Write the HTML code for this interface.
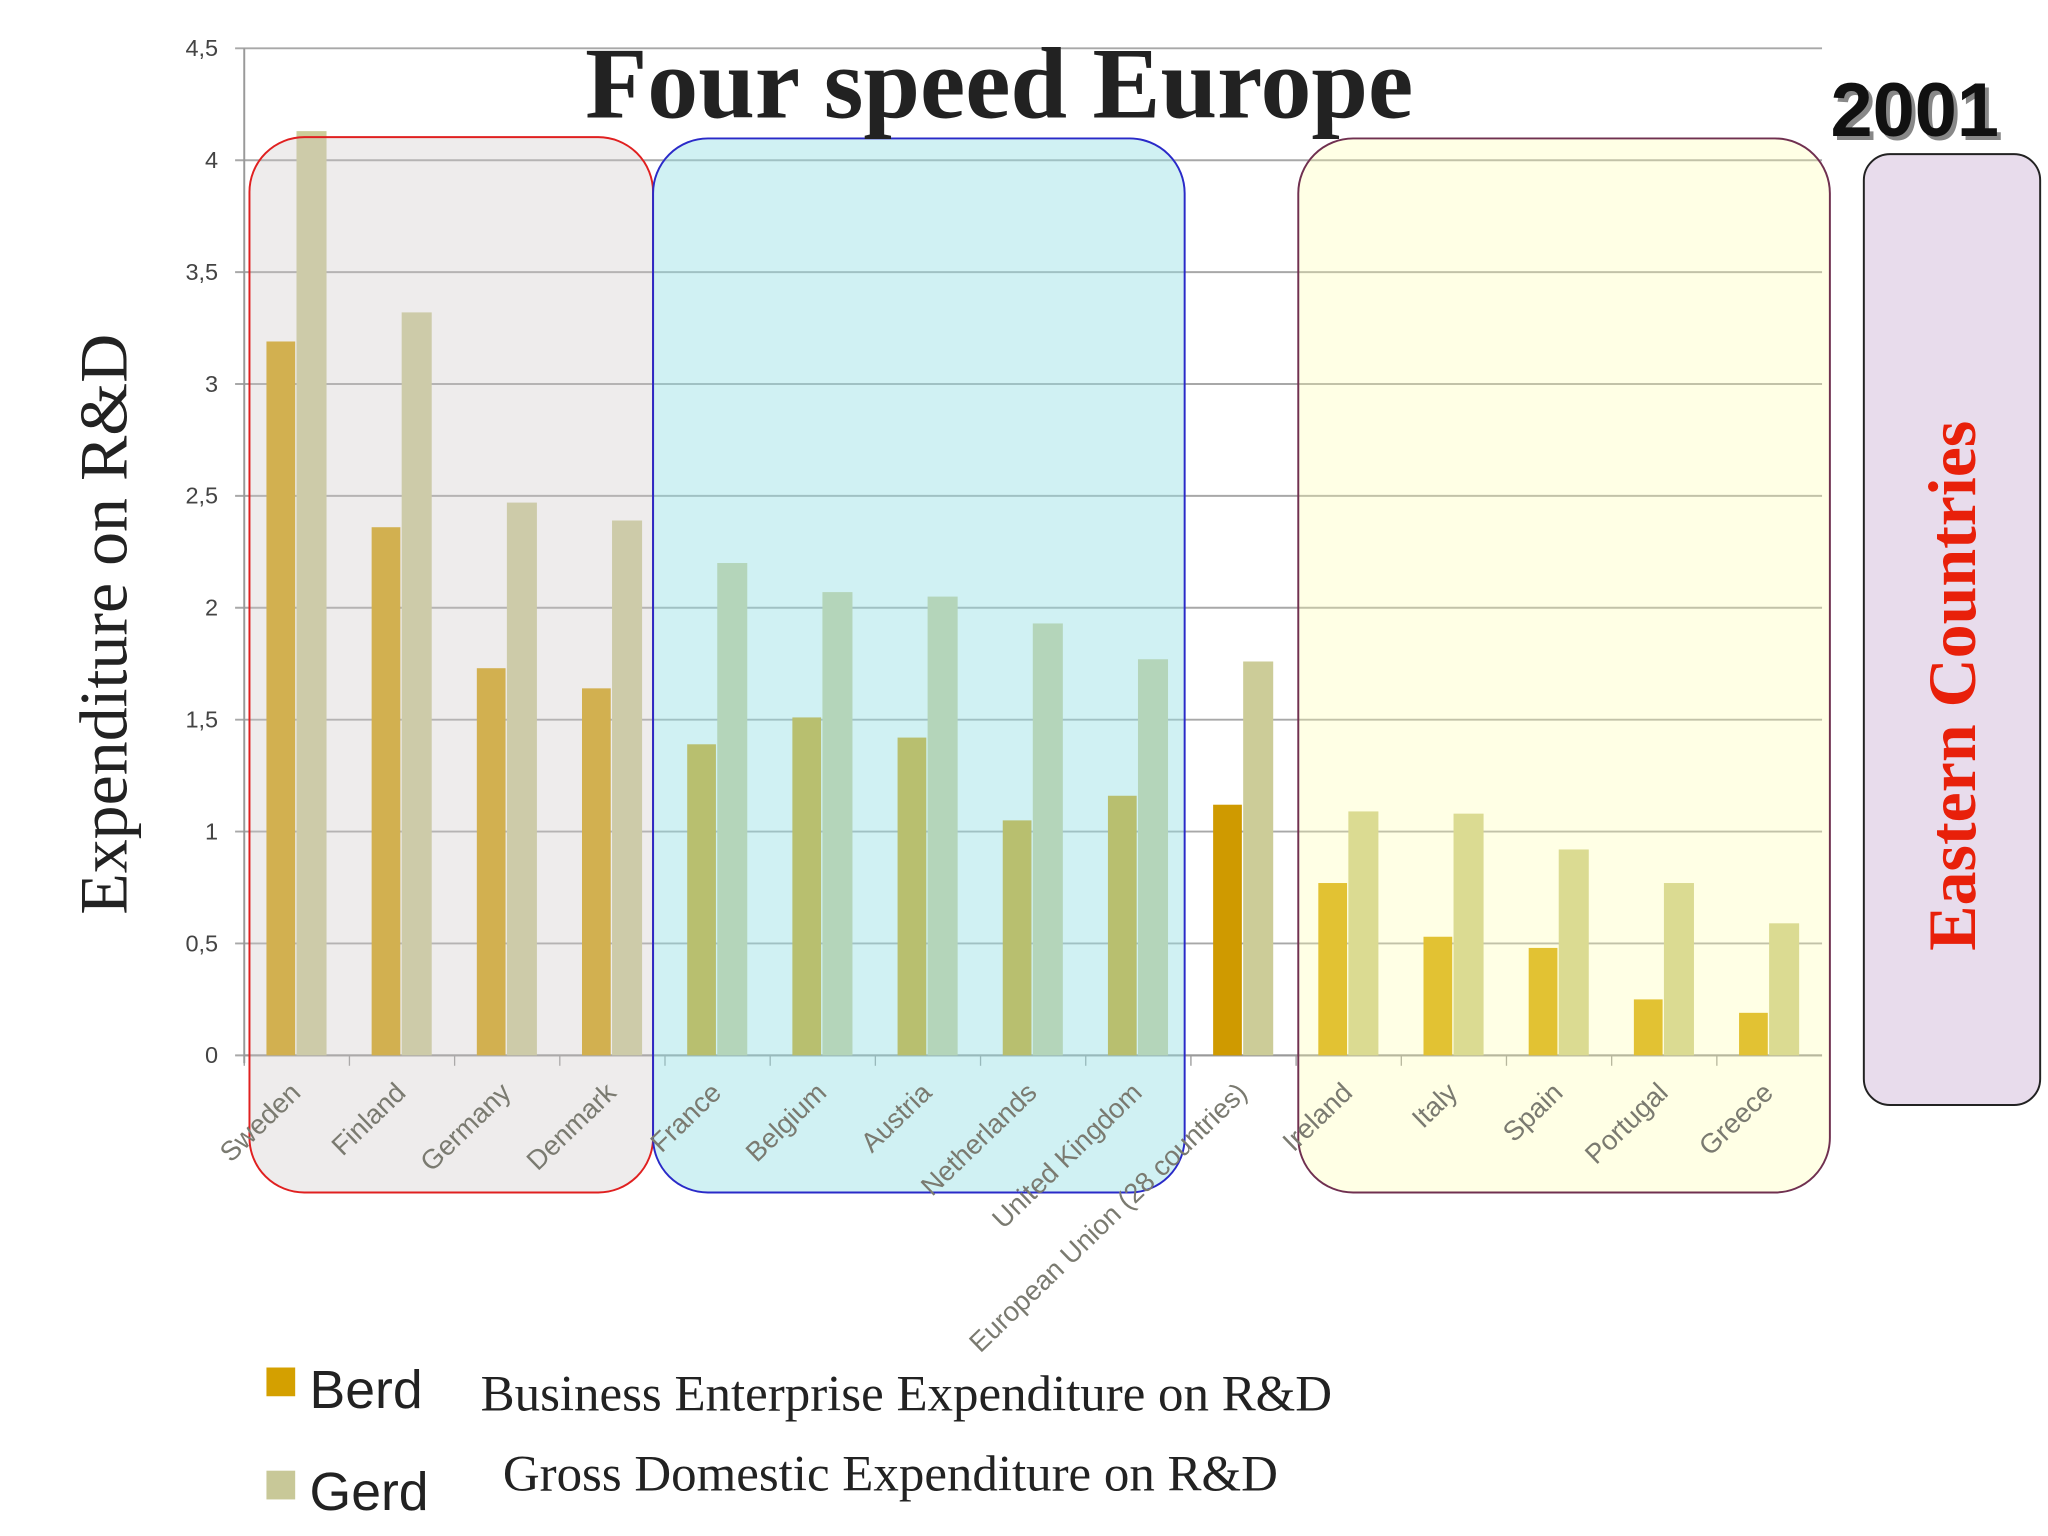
<!DOCTYPE html>
<html><head><meta charset="utf-8">
<style>
html,body{margin:0;padding:0;background:#fff;}
svg{display:block;}
</style></head>
<body>
<svg id="chart" width="2048" height="1536" viewBox="0 0 1568 1176" xmlns="http://www.w3.org/2000/svg">
<rect x="0" y="0" width="1568" height="1176" fill="#fff"/>
<g id="grid"></g>
<g id="bars"></g>
<g id="overlays">
<rect x="191" y="105" width="309" height="808" rx="42" fill="rgba(205,200,200,0.35)" stroke="#e02020" stroke-width="1.5"/>
<rect x="500" y="106" width="407" height="807" rx="42" fill="rgba(150,225,228,0.45)" stroke="#2a2ac8" stroke-width="1.5"/>
<rect x="994" y="106" width="407" height="807" rx="42" fill="rgba(255,255,170,0.3)" stroke="#703050" stroke-width="1.5"/>
<rect x="1427" y="118" width="135" height="728" rx="20" fill="#e8dcec" stroke="#222" stroke-width="1.5"/>
</g>
<g id="labels"></g>
<text x="765" y="90" text-anchor="middle" font-family="Liberation Serif, serif" font-weight="bold" font-size="78" fill="#222">Four speed Europe</text>
<text x="1469" y="107" text-anchor="middle" font-family="Liberation Sans, sans-serif" font-weight="bold" font-size="58" fill="#888">2001</text>
<text x="1466" y="104" text-anchor="middle" font-family="Liberation Sans, sans-serif" font-weight="bold" font-size="58" fill="#111">2001</text>
<text transform="translate(97,478) rotate(-90)" text-anchor="middle" font-family="Liberation Serif, serif" font-size="52" fill="#222">Expenditure on R&amp;D</text>
<text transform="translate(1512,525) rotate(-90)" text-anchor="middle" font-family="Liberation Serif, serif" font-weight="bold" font-size="52" fill="#e8200a">Eastern Countries</text>
<rect x="204" y="1047" width="22" height="22" fill="#d4a000"/>
<text x="237" y="1078" font-family="Liberation Sans, sans-serif" font-size="41" fill="#222">Berd</text>
<text x="368" y="1080" font-family="Liberation Serif, serif" font-size="39" fill="#222">Business Enterprise Expenditure on R&amp;D</text>
<rect x="204" y="1126" width="22" height="22" fill="#c8c898"/>
<text x="237" y="1156" font-family="Liberation Sans, sans-serif" font-size="41" fill="#222">Gerd</text>
<text x="385" y="1141" font-family="Liberation Serif, serif" font-size="39" fill="#222">Gross Domestic Expenditure on R&amp;D</text>
</svg>
<script>
const categories = ["Sweden","Finland","Germany","Denmark","France","Belgium","Austria","Netherlands","United Kingdom","European Union (28 countries)","Ireland","Italy","Spain","Portugal","Greece"];
const berd = [3.19,2.36,1.73,1.64,1.39,1.51,1.42,1.05,1.16,1.12,0.77,0.53,0.48,0.25,0.19];
const gerd = [4.13,3.32,2.47,2.39,2.20,2.07,2.05,1.93,1.77,1.76,1.09,1.08,0.92,0.77,0.59];
const yTicks = [0,0.5,1,1.5,2,2.5,3,3.5,4,4.5];
const yTickLabels = ["0","0,5","1","1,5","2","2,5","3","3,5","4","4,5"];

const NS = "http://www.w3.org/2000/svg";
const x0 = 187, x1 = 1395, y0 = 808, yTop = 37, yMax = 4.5;
const step = (x1 - x0) / categories.length;
function y(v){ return y0 - v / yMax * (y0 - yTop); }
function xc(i){ return x0 + i * step; }
function mk(tag, attrs, parent){
  const e = document.createElementNS(NS, tag);
  for (const k in attrs) e.setAttribute(k, attrs[k]);
  parent.appendChild(e); return e;
}
const grid = document.getElementById('grid');
const bars = document.getElementById('bars');
const labels = document.getElementById('labels');

yTicks.forEach((t, i) => {
  const ln = mk('line', {x1: 180, x2: x1, y1: y(t), y2: y(t), stroke: '#a8a8a8', 'stroke-width': 1.5}, grid);
  
  
  const tx = mk('text', {x: 167, y: y(t) + 6, 'text-anchor': 'end', 'font-family': 'Liberation Sans, sans-serif', 'font-size': 18, fill: '#444'}, grid);
  tx.textContent = yTickLabels[i];
  
  
});
const ax = mk('line', {x1: x0, x2: x0, y1: yTop, y2: y0 + 6, stroke: '#999', 'stroke-width': 1.5}, grid);


const bx = mk('line', {x1: x0, x2: x1, y1: y0, y2: y0, stroke: '#999', 'stroke-width': 1.5}, grid);



categories.forEach((c, i) => {
  const bc = i === 9 ? '#cf9a00' : (i >= 10 ? '#d6a800' : '#d4a410');
  const gc = i >= 10 ? '#cccc88' : '#cccc98';
  const b = mk('rect', {x: xc(i) + 17, y: y(berd[i]), width: 22, height: y0 - y(berd[i]), fill: bc}, bars);
  
  
  const g = mk('rect', {x: xc(i) + 40, y: y(gerd[i]), width: 23, height: y0 - y(gerd[i]), fill: gc}, bars);
  
  
  const tk = mk('line', {x1: xc(i), x2: xc(i), y1: y0, y2: y0 + 8, stroke: '#999', 'stroke-width': 1}, grid);
  
  
  const cx = xc(i) + step / 2;
  const t = mk('text', {transform: `translate(${cx + 4},${y0 + 30}) rotate(-44)`, 'text-anchor': 'end', 'font-family': 'Liberation Sans, sans-serif', 'font-size': 21, fill: '#7a7a70'}, labels);
  t.textContent = c;
  
  
});
</script>
</body></html>
